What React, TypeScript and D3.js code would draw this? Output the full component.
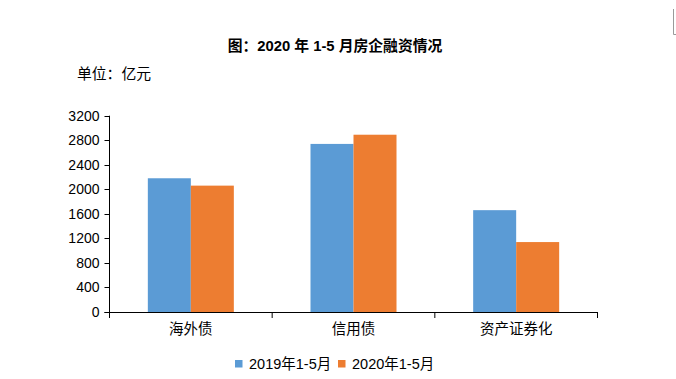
import React from "react";
import * as d3 from "d3";

const categories = ["海外债", "信用债", "资产证券化"];
const seriesNames = ["2019年1-5月", "2020年1-5月"];
const values2019 = [2180, 2740, 1660];
const values2020 = [2060, 2890, 1140];
const yTicks = [0, 400, 800, 1200, 1600, 2000, 2400, 2800, 3200];
const colors = ["#5B9BD5", "#ED7D31"];

const W = 676;
const H = 379;
const FONT = "'Liberation Sans', 'Noto Sans CJK SC', Arial, sans-serif";

export default function App() {
  const left = 109.5;
  const right = 597.5;
  const top = 115.7;
  const bottom = 312;
  const x = d3.scaleBand<string>().domain(categories).range([left, right]).paddingInner(0).paddingOuter(0);
  const y = d3.scaleLinear().domain([0, 3200]).range([bottom, top]);
  const barW = 43;
  const series = [values2019, values2020];

  return (
    <svg width={W} height={H} style={{ position: "absolute", left: 0, top: 0, background: "#fff" }} fontFamily={FONT}>
      <rect x={0} y={0} width={W} height={H} fill="#fff" />
      <path d="M673.5,9 V34.5 H676" fill="none" stroke="#9a9a9a" strokeWidth={1} />
      <text x={335} y={50.5} textAnchor="middle" fontSize={14.8} fontWeight="bold" fill="#000">
        图：2020 年 1-5 月房企融资情况
      </text>
      <text x={77} y={78.5} fontSize={14.8} fill="#000">单位：亿元</text>

      {series.map((vals, si) =>
        categories.map((c, ci) => {
          const bx = (x(c) as number) + (x.bandwidth() - 2 * barW) / 2 + si * barW;
          return (
            <rect key={`${si}-${ci}`} x={bx} y={y(vals[ci])} width={barW} height={bottom - y(vals[ci])} fill={colors[si]} />
          );
        })
      )}

      <line x1={left} x2={left} y1={top} y2={bottom} stroke="#000" strokeWidth={1} />
      {yTicks.map((t) => (
        <g key={t}>
          <line x1={left - 5} x2={left} y1={Math.round(y(t)) + 0.5} y2={Math.round(y(t)) + 0.5} stroke="#000" />
          <text x={99.5} y={y(t) + 5} textAnchor="end" fontSize={14} fill="#000">{t}</text>
        </g>
      ))}
      <line x1={left - 5} x2={right} y1={bottom + 0.5} y2={bottom + 0.5} stroke="#000" strokeWidth={1} />
      {[...categories.map((c) => x(c) as number), right].map((tx, i) => (
        <line key={i} x1={tx} x2={tx} y1={bottom} y2={bottom + 6} stroke="#000" />
      ))}
      {categories.map((c) => (
        <text key={c} x={(x(c) as number) + x.bandwidth() / 2} y={334} textAnchor="middle" fontSize={14.5} fill="#000">{c}</text>
      ))}

      {seriesNames.map((n, i) => {
        const lx = i === 0 ? 235 : 338;
        return (
          <g key={n}>
            <rect x={lx} y={360} width={7.5} height={7.5} fill={colors[i]} />
            <text x={lx + 14} y={369} fontSize={14.5} fill="#000">{n}</text>
          </g>
        );
      })}
    </svg>
  );
}
